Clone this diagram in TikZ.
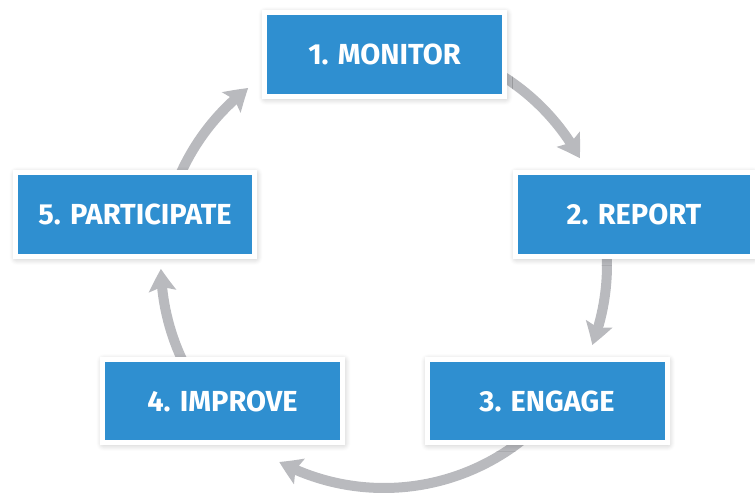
\documentclass[tikz,border=0pt]{standalone}
\usepackage{fontspec}
\setmainfont{Fira Sans}
\usetikzlibrary{arrows.meta,bending,shadows.blur,calc}
\definecolor{boxblue}{HTML}{2F8FD0}
\definecolor{arrowgray}{HTML}{B9BABE}
\tikzset{
  stepbox/.style={rectangle, fill=boxblue, draw=white, line width=5pt,
    minimum width=240pt, minimum height=84pt, inner sep=0pt,
    text=white, font=\fontsize{29}{33}\selectfont\bfseries,
    blur shadow={shadow xshift=1pt, shadow yshift=-1.5pt, shadow blur radius=7pt, shadow opacity=28, shadow blur steps=10}},
  flow/.style={draw=arrowgray, line width=10pt,
    -{Stealth[length=22pt,width=27pt,inset=4pt,bend]}}
}
\begin{document}
\begin{tikzpicture}[x=1pt,y=-1pt]
\useasboundingbox (0,0) rectangle (755,494);
\coordinate (C) at (384,265);
\coordinate (a1s) at ([shift={(-60:223)}]C);
\coordinate (a2s) at ([shift={(-5:223)}]C);
\coordinate (a3s) at ([shift={(50:223)}]C);
\coordinate (a4s) at ([shift={(150:223)}]C);
\coordinate (a5s) at ([shift={(200:223)}]C);
\draw[flow] (a1s) arc[start angle=-60, end angle=-28.6, radius=223];
\draw[flow] (a2s) arc[start angle=-5, end angle=21, radius=223];
\draw[flow] (a3s) arc[start angle=50, end angle=118, radius=223];
\draw[flow] (a4s) arc[start angle=150, end angle=179, radius=223];
\draw[flow] (a5s) arc[start angle=200, end angle=232.5, radius=223];
\node[stepbox] (b1) at (384.5,54.5) {1. MONITOR};
\node[stepbox, minimum width=237pt] (b2) at (634,214.5) {2. REPORT};
\node[stepbox, minimum width=239pt] (b5) at (135,214.5) {5. PARTICIPATE};
\node[stepbox, minimum height=83pt] (b4) at (222.5,401) {4. IMPROVE};
\node[stepbox, minimum height=83pt] (b3) at (547,401) {3. ENGAGE};
\end{tikzpicture}
\end{document}
